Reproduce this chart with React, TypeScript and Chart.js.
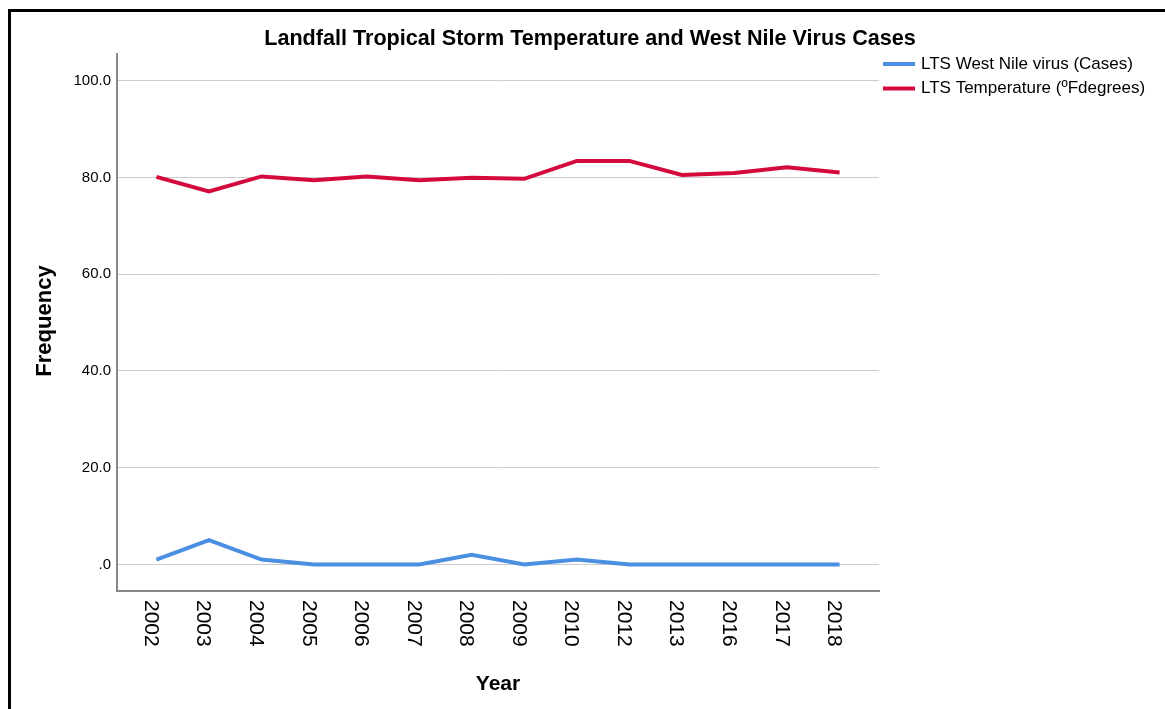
import React, { useEffect, useRef } from "react";
import { Chart, registerables } from "chart.js";

Chart.register(...registerables);

const years = ["2002", "2003", "2004", "2005", "2006", "2007", "2008", "2009", "2010", "2012", "2013", "2016", "2017", "2018"];
const westNileCases = [1, 5, 1, 0, 0, 0, 2, 0, 1, 0, 0, 0, 0, 0];
const temperature = [80.1, 77.1, 80.2, 79.4, 80.2, 79.4, 79.9, 79.7, 83.4, 83.4, 80.5, 80.9, 82.1, 81.0];
const seriesNames = ["LTS West Nile virus (Cases)", "LTS Temperature (ºFdegrees)"];
const seriesColors = ["#4a8fe2", "#d40a3c"];
const yTickValues = [0, 20, 40, 60, 80, 100];
const chartTitle = "Landfall Tropical Storm Temperature and West Nile Virus Cases";
const xTitle = "Year";
const yTitle = "Frequency";

const FONT = '"Liberation Sans", Arial, sans-serif';

const decorPlugin = {
  id: "decor",
  beforeDraw(chart: any) {
    const ctx = chart.ctx;
    ctx.save();
    ctx.fillStyle = "#ffffff";
    ctx.fillRect(0, 0, chart.width, chart.height);
    ctx.fillStyle = "#000000";
    ctx.fillRect(8, 9, 3, chart.height);
    ctx.fillRect(8, 9, chart.width, 3);
    ctx.restore();
  },
  afterDraw(chart: any) {
    const ctx = chart.ctx;
    const xs = chart.scales.x;
    const area = chart.chartArea;
    ctx.save();
    ctx.fillStyle = "#000000";

    // title
    ctx.font = `bold 21.6px ${FONT}`;
    ctx.textAlign = "center";
    ctx.textBaseline = "alphabetic";
    ctx.fillText(chartTitle, 590, 45);

    // x title
    ctx.font = `bold 21px ${FONT}`;
    ctx.fillText(xTitle, (area.left + area.right) / 2, 690);

    // y title
    ctx.save();
    ctx.font = `bold 22px ${FONT}`;
    ctx.translate(51, 321);
    ctx.rotate(-Math.PI / 2);
    ctx.textAlign = "center";
    ctx.fillText(yTitle, 0, 0);
    ctx.restore();

    // x tick labels, rotated clockwise
    ctx.font = `21px ${FONT}`;
    ctx.textAlign = "left";
    ctx.textBaseline = "alphabetic";
    years.forEach((label, i) => {
      const px = xs.getPixelForValue(i);
      ctx.save();
      ctx.translate(px - 11.5, 600);
      ctx.rotate(Math.PI / 2);
      ctx.fillText(label, 0, 0);
      ctx.restore();
    });

    // legend
    ctx.font = `17px ${FONT}`;
    ctx.textBaseline = "middle";
    const rows = [64, 88.5];
    seriesNames.forEach((name, i) => {
      ctx.strokeStyle = seriesColors[i];
      ctx.lineWidth = 4;
      ctx.beginPath();
      ctx.moveTo(883, rows[i]);
      ctx.lineTo(915, rows[i]);
      ctx.stroke();
      ctx.fillStyle = "#000000";
      ctx.fillText(name, 921, rows[i]);
    });
    ctx.restore();
  },
};

export default function App() {
  const ref = useRef<HTMLCanvasElement | null>(null);
  useEffect(() => {
    if (!ref.current) return;
    const chart = new Chart(ref.current, {
      type: "line",
      data: {
        datasets: [
          {
            label: seriesNames[0],
            data: years.map((_, i) => ({ x: i, y: westNileCases[i] })),
            borderColor: seriesColors[0],
            backgroundColor: seriesColors[0],
            borderWidth: 4,
            pointRadius: 0,
            tension: 0,
          },
          {
            label: seriesNames[1],
            data: years.map((_, i) => ({ x: i, y: temperature[i] })),
            borderColor: seriesColors[1],
            backgroundColor: seriesColors[1],
            borderWidth: 4,
            pointRadius: 0,
            tension: 0,
          },
        ],
      },
      options: {
        animation: false,
        responsive: false,
        devicePixelRatio: 1,
        layout: { padding: { top: 54, right: 286, left: 0, bottom: 0 } },
        plugins: {
          legend: { display: false },
          title: { display: false },
          tooltip: { enabled: false },
        },
        scales: {
          x: {
            type: "linear",
            min: -0.75,
            max: years.length - 1 + 0.75,
            ticks: { display: false },
            grid: { display: false },
            border: { display: true, color: "#888888", width: 2 },
            afterFit: (s: any) => {
              s.height = 118;
            },
          },
          y: {
            min: -5.5,
            max: 105.5,
            afterBuildTicks: (s: any) => {
              s.ticks = yTickValues.map((v) => ({ value: v }));
            },
            ticks: {
              font: { family: FONT, size: 15 },
              color: "#000000",
              padding: 6,
              callback: (v: any) => (Number(v) === 0 ? ".0" : Number(v).toFixed(1)),
            },
            grid: { color: "#cccccc", lineWidth: 1, drawTicks: false },
            border: { display: true, color: "#888888", width: 2 },
            afterFit: (s: any) => {
              s.width = 117;
            },
          },
        },
      },
      plugins: [decorPlugin],
    } as any);
    return () => chart.destroy();
  }, []);
  return (
    <div style={{ position: "fixed", left: 0, top: 0, width: 1165, height: 709, background: "#fff" }}>
      <canvas ref={ref} width={1165} height={709} style={{ display: "block" }} />
    </div>
  );
}
